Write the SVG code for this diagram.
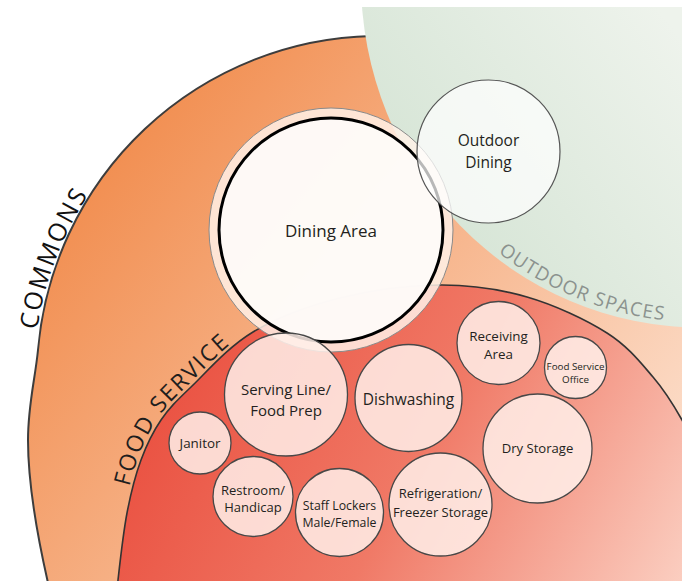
<svg xmlns="http://www.w3.org/2000/svg" width="682" height="581" viewBox="0 0 682 581">
<defs>
  <linearGradient id="gCommons" gradientUnits="userSpaceOnUse" x1="70" y1="140" x2="640" y2="600">
    <stop offset="0" stop-color="#f18a4a"/>
    <stop offset="1" stop-color="#fde4d4"/>
  </linearGradient>
  <linearGradient id="gOutdoor" gradientUnits="userSpaceOnUse" x1="400" y1="250" x2="682" y2="40">
    <stop offset="0" stop-color="#d3e3d3"/>
    <stop offset="1" stop-color="#eef3ec"/>
  </linearGradient>
  <linearGradient id="gFood" gradientUnits="userSpaceOnUse" x1="170" y1="360" x2="690" y2="640">
    <stop offset="0" stop-color="#ea5141"/>
    <stop offset="0.45" stop-color="#f07966"/>
    <stop offset="1" stop-color="#fcd8cb"/>
  </linearGradient>
  <clipPath id="clipTop"><rect x="0" y="7" width="682" height="574"/></clipPath>
  <path id="pCommons" d="M 34.3 352.8 A 347 347 0 0 1 134.6 137.6"/>
  <path id="pFood" d="M 114.5 579.6 C 116.7 560.1 119.8 532.3 123.6 512.3 C 127.4 492.3 132 474.3 137.7 458.8 C 143.4 443.3 149.8 430.2 158.1 418 C 166.4 405.8 173.3 399.2 188.6 384.5 C 203.9 369.8 226.4 343.8 251.2 329 C 276 314.2 307.9 302.4 339.1 294.6"/>
  <path id="pOutdoor" d="M 498 252.4 A 334 342 0 0 0 690 322"/>
  <style>
    .zone-label { font-family: "Open Sans", "Noto Sans", sans-serif; }
    .node circle { fill: #fff0ea; fill-opacity: 0.85; stroke: #484848; stroke-width: 1.3; }
    .node text { font-family: "Open Sans", "Noto Sans", sans-serif; fill: #231f20; text-anchor: middle; }
  </style>
</defs>

<g id="zones" clip-path="url(#clipTop)">
  <path id="commons" fill="url(#gCommons)" stroke="#3d3d3d" stroke-width="2"
        d="M 372 36 A 343 343 0 0 0 38 350 C 35 380 28 405 28 440 C 28 490 40 550 52 600 L 60 640 L 720 640 L 720 10 L 440 10 Z"/>
  <ellipse id="outdoor-spaces" cx="700" cy="-20" rx="339" ry="347.5" fill="url(#gOutdoor)"/>
  <path id="food-service" fill="url(#gFood)" stroke="#333333" stroke-width="1.6"
        d="M 114 630 L 118 580 C 120.2 560.5 123.2 533 127 513 C 130.8 493 135.3 475.5 141 460 C 146.7 444.5 152.7 432.2 161 420 C 169.3 407.8 175.7 401.7 191 387 C 206.3 372.3 228.2 346.8 253 332 C 277.8 317.2 308.8 305.8 340 298 C 371.2 290.2 408.8 285.2 440 285 C 471.2 284.8 499.2 289 527 297 C 554.8 305 586 319.7 607 333 C 628 346.3 640.5 362.5 653 377 C 665.5 391.5 673.3 404.5 682 420 L 700 455 L 720 640 Z"/>
</g>

<g id="zone-labels" class="zone-label">
  <text font-size="25" fill="#111111" textLength="145" lengthAdjust="spacing"><textPath href="#pCommons" startOffset="23">COMMONS</textPath></text>
  <text font-size="23" fill="#1e1e1e" textLength="178" lengthAdjust="spacing"><textPath href="#pFood" startOffset="94">FOOD SERVICE</textPath></text>
  <text font-size="19" fill="#8b928e" textLength="181" lengthAdjust="spacing"><textPath href="#pOutdoor" startOffset="0">OUTDOOR SPACES</textPath></text>
</g>

<g id="connectors"></g>

<g id="dining-area">
  <circle cx="331" cy="230" r="122" fill="#fff1e8" fill-opacity="0.85" stroke="#8a8a8a" stroke-width="1"/>
  <circle cx="331" cy="230" r="112" fill="#fefbf9" fill-opacity="0.93" stroke="#000000" stroke-width="3"/>
  <text x="331" y="237" font-size="17" font-family="Open Sans, Noto Sans, sans-serif" fill="#231f20" text-anchor="middle">Dining Area</text>
</g>

<g id="outdoor-dining">
  <circle cx="488.5" cy="151.5" r="71.5" fill="#ffffff" fill-opacity="0.72" stroke="#555555" stroke-width="1.2"/>
  <text x="488.5" y="145.5" font-size="15.5" font-family="Open Sans, Noto Sans, sans-serif" fill="#231f20" text-anchor="middle">Outdoor</text>
  <text x="488.5" y="167.5" font-size="15.5" font-family="Open Sans, Noto Sans, sans-serif" fill="#231f20" text-anchor="middle">Dining</text>
</g>

<g id="serving-line" class="node">
  <circle cx="286" cy="394.5" r="61.5"/>
  <text x="286" y="394.5" font-size="15">Serving Line/</text>
  <text x="286" y="415.5" font-size="15">Food Prep</text>
</g>
<g id="dishwashing" class="node">
  <circle cx="408.5" cy="398" r="53.5"/>
  <text x="408.5" y="404.5" font-size="15.5">Dishwashing</text>
</g>
<g id="receiving-area" class="node">
  <circle cx="498.5" cy="343" r="41.5"/>
  <text x="498.5" y="341" font-size="13.4">Receiving</text>
  <text x="498.5" y="359" font-size="13.4">Area</text>
</g>
<g id="food-service-office" class="node">
  <circle cx="575.5" cy="367.5" r="31"/>
  <text x="575.5" y="369.5" font-size="9.8">Food Service</text>
  <text x="575.5" y="382.5" font-size="9.8">Office</text>
</g>
<g id="dry-storage" class="node">
  <circle cx="537.5" cy="448.5" r="54.5"/>
  <text x="537.5" y="453" font-size="13.1">Dry Storage</text>
</g>
<g id="refrigeration" class="node">
  <circle cx="440.5" cy="504.5" r="51.5"/>
  <text x="440.5" y="498" font-size="13">Refrigeration/</text>
  <text x="440.5" y="517" font-size="13">Freezer Storage</text>
</g>
<g id="staff-lockers" class="node">
  <circle cx="339.5" cy="512.5" r="44"/>
  <text x="339.5" y="509.5" font-size="12.3">Staff Lockers</text>
  <text x="339.5" y="526.5" font-size="12.3">Male/Female</text>
</g>
<g id="restroom" class="node">
  <circle cx="253" cy="496.5" r="40"/>
  <text x="253" y="495" font-size="13">Restroom/</text>
  <text x="253" y="512" font-size="13">Handicap</text>
</g>
<g id="janitor" class="node">
  <circle cx="200" cy="443" r="31"/>
  <text x="200" y="448" font-size="13.4">Janitor</text>
</g>
</svg>
